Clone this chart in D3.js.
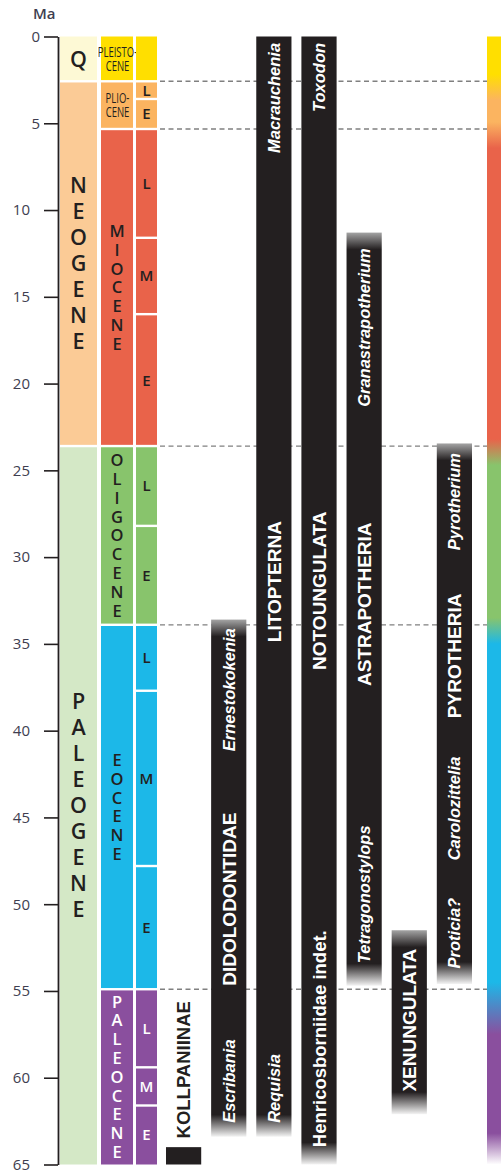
<!DOCTYPE html>
<html>
<head>
<meta charset="utf-8">
<script src="https://cdn.jsdelivr.net/npm/d3@7"></script>
<style>
  body { margin: 0; background: #fff; }
  svg { display: block; }
</style>
</head>
<body>
<svg width="501" height="1171"></svg>
<script>
// ---- time scale (Ma) ----
var periodNames = ["Q", "NEOGENE", "PALEOGENE"];
var periodBounds = [0, 2.58, 23.6, 65];

var epochNames = ["PLEISTO-|CENE", "PLIO-|CENE", "MIOCENE", "OLIGOCENE", "EOCENE", "PALEOCENE"];
var epochBounds = [0, 2.58, 5.33, 23.6, 33.9, 54.9, 65];

var ageNames = ["", "L", "E", "L", "M", "E", "L", "E", "L", "M", "E", "L", "M", "E"];
var ageEpoch = [0, 1, 1, 2, 2, 2, 3, 3, 4, 4, 4, 5, 5, 5];
var ageBounds = [0, 2.58, 3.6, 5.33, 11.6, 16.0, 23.6, 28.2, 33.9, 37.7, 47.8, 54.9, 59.4, 61.6, 65];

var dashedAt = [2.58, 5.33, 23.6, 33.9, 54.9];
var majorTicks = [0, 5, 10, 15, 20, 25, 30, 35, 40, 45, 50, 55, 60, 65];

// ---- clade ranges (Ma) ----
var cladeNames = ["KOLLPANIINAE", "DIDOLODONTIDAE", "LITOPTERNA", "NOTOUNGULATA", "ASTRAPOTHERIA", "XENUNGULATA", "PYROTHERIA"];
var cladeTop  = [64.0, 33.6, 0, 0, 11.3, 51.5, 23.45];
var cladeBase = [65.0, 63.4, 63.4, 65.0, 54.7, 62.1, 54.6];
var fadeTop   = [false, true, false, false, true, true, true];
var fadeBase  = [false, true, true, true, true, true, true];

// labels: [clade, text, age (Ma), anchor, kind]
var taxonLabels = [
  ["KOLLPANIINAE", "KOLLPANIINAE", 63.5, "start", "outside"],
  ["DIDOLODONTIDAE", "Ernestokokenia", 34.1, "end", "genus"],
  ["DIDOLODONTIDAE", "DIDOLODONTIDAE", 54.7, "start", "group"],
  ["DIDOLODONTIDAE", "Escribania", 62.6, "start", "genus"],
  ["LITOPTERNA", "Macrauchenia", 0.37, "end", "genus"],
  ["LITOPTERNA", "LITOPTERNA", 34.9, "start", "group"],
  ["LITOPTERNA", "Requisia", 62.6, "start", "genus"],
  ["NOTOUNGULATA", "Toxodon", 0.37, "end", "genus"],
  ["NOTOUNGULATA", "NOTOUNGULATA", 36.5, "start", "group"],
  ["NOTOUNGULATA", "Henricosborniidae indet.", 64.0, "start", "plain"],
  ["ASTRAPOTHERIA", "Granastrapotherium", 12.2, "end", "genus"],
  ["ASTRAPOTHERIA", "ASTRAPOTHERIA", 28.0, "end", "group"],
  ["ASTRAPOTHERIA", "Tetragonostylops", 53.4, "start", "genus"],
  ["XENUNGULATA", "XENUNGULATA", 60.8, "start", "group"],
  ["PYROTHERIA", "Pyrotherium", 24.0, "end", "genus"],
  ["PYROTHERIA", "PYROTHERIA", 32.1, "end", "group"],
  ["PYROTHERIA", "Carolozittelia", 41.5, "end", "genus"],
  ["PYROTHERIA", "Proticia?", 53.7, "start", "genus"]
];

// ---- styles ----
var periodColors = ["#fdf9d5", "#fbcb96", "#d4e8c6"];
var epochColors = ["#ffdf00", "#fbb460", "#e9634a", "#88c46c", "#1cb8e8", "#8a4f9e"];
var epochInk = ["#231f20", "#231f20", "#231f20", "#231f20", "#231f20", "#ffffff"];
var barColor = "#231f20";

var svg = d3.select("svg");

var y = d3.scaleLinear().domain([0, 65]).range([36.5, 1164.5]);

var col = {
  period: [60, 97],
  epoch: [101, 133],
  age: [136, 157]
};

var x = d3.scaleBand()
  .domain(cladeNames)
  .range([166, 472])
  .paddingInner(0.22);

var defs = svg.append("defs");

// dashed boundary lines (behind bars)
svg.append("g")
  .selectAll("line")
  .data(dashedAt)
  .enter().append("line")
    .attr("x1", 160)
    .attr("x2", 487)
    .attr("y1", function(d) { return y(d); })
    .attr("y2", function(d) { return y(d); })
    .attr("stroke", "#808080")
    .attr("stroke-width", 1.3)
    .attr("stroke-dasharray", "5,3.5");

// helper: cells of one column
function cells(bounds, names, xr, fill) {
  var g = svg.append("g");
  g.selectAll("rect")
    .data(names)
    .enter().append("rect")
      .attr("x", xr[0])
      .attr("width", xr[1] - xr[0])
      .attr("y", function(d, i) { return y(bounds[i]) + (i > 0 ? 1.2 : 0); })
      .attr("height", function(d, i) { return y(bounds[i + 1]) - y(bounds[i]) - (i > 0 ? 1.2 : 0) - (i < names.length - 1 ? 1.2 : 0); })
      .attr("fill", fill);
  return g;
}

// stacked upright letters
function stack(g, word, cx, cy, step, size, color) {
  var letters = word.split("");
  var n = letters.length;
  g.selectAll(null)
    .data(letters)
    .enter().append("text")
      .attr("x", cx)
      .attr("y", function(d, i) { return cy + (i - (n - 1) / 2) * step; })
      .attr("dy", "0.36em")
      .attr("text-anchor", "middle")
      .style("font-family", "'Open Sans', 'Noto Sans', sans-serif")
      .style("font-weight", 600)
      .style("font-size", size + "px")
      .attr("fill", color)
      .text(function(d) { return d; });
}

// periods
var gp = cells(periodBounds, periodNames, col.period, function(d, i) { return periodColors[i]; });
periodNames.forEach(function(name, i) {
  var cy = (y(periodBounds[i]) + y(periodBounds[i + 1])) / 2;
  stack(gp, name, (col.period[0] + col.period[1]) / 2, cy, 26, 21.5, "#231f20");
});

// epochs
var ge = cells(epochBounds, epochNames, col.epoch, function(d, i) { return epochColors[i]; });
epochNames.forEach(function(name, i) {
  var cx = (col.epoch[0] + col.epoch[1]) / 2;
  var cy = (y(epochBounds[i]) + y(epochBounds[i + 1])) / 2;
  if (name.indexOf("|") >= 0) {
    var lines = name.split("|");
    lines.forEach(function(t, j) {
      ge.append("text")
        .attr("transform", "translate(" + (cx + 0.5) + "," + (cy + (j - 0.5) * 13.6) + ") scale(0.68,1)")
        .attr("dy", "0.36em")
        .attr("text-anchor", "middle")
        .style("font-family", "'Open Sans', sans-serif")
        .style("font-size", "14px")
        .attr("fill", epochInk[i])
        .text(t);
    });
  } else {
    stack(ge, name, cx, cy, 18.8, 16.5, epochInk[i]);
  }
});

// ages
var ga = cells(ageBounds, ageNames, col.age, function(d, i) { return epochColors[ageEpoch[i]]; });
ga.selectAll("text")
  .data(ageNames)
  .enter().append("text")
    .attr("x", (col.age[0] + col.age[1]) / 2)
    .attr("y", function(d, i) { return (y(ageBounds[i]) + y(ageBounds[i + 1])) / 2; })
    .attr("dy", "0.36em")
    .attr("text-anchor", "middle")
    .style("font-family", "'Open Sans', sans-serif")
    .style("font-weight", 600)
    .style("font-size", "15px")
    .attr("fill", function(d, i) { return epochInk[ageEpoch[i]]; })
    .text(function(d) { return d; });

// axis
var ink = "#231f20";
var gAxis = svg.append("g").attr("transform", "translate(58,0)");
gAxis.call(d3.axisLeft(y).tickValues(d3.range(0, 66)).tickSize(6).tickSizeOuter(0).tickFormat(""));
gAxis.call(d3.axisLeft(y).tickValues(majorTicks).tickSize(14).tickSizeOuter(0).tickPadding(4));
gAxis.selectAll(".domain").attr("stroke", ink).attr("stroke-width", 1.8);
gAxis.selectAll(".tick line").attr("stroke", ink).attr("stroke-width", 1.6);
gAxis.selectAll(".tick text")
  .attr("x", function(d) { return d < 10 ? -18 : -28; })
  .attr("fill", "#3e3e50")
  .style("font-family", "'Open Sans', 'Noto Sans', sans-serif")
  .style("font-size", "15px");

svg.append("text")
  .attr("x", 33)
  .attr("y", 19)
  .attr("fill", "#3e3e50")
  .style("font-family", "'Open Sans', sans-serif")
  .style("font-weight", 600)
  .style("font-size", "15px")
  .text("Ma");

// clade bars with faded ends
cladeNames.forEach(function(name, i) {
  var y0 = y(cladeTop[i]), y1 = y(cladeBase[i]);
  var h = y1 - y0;
  var grad = defs.append("linearGradient")
    .attr("id", "fade" + i)
    .attr("x1", 0).attr("y1", 0).attr("x2", 0).attr("y2", 1);
  if (fadeTop[i]) {
    grad.append("stop").attr("offset", 0).attr("stop-color", "#a4a4a4");
    grad.append("stop").attr("offset", Math.min(0.5, 17 / h)).attr("stop-color", barColor);
  } else {
    grad.append("stop").attr("offset", 0).attr("stop-color", barColor);
  }
  if (fadeBase[i]) {
    grad.append("stop").attr("offset", Math.max(0.5, 1 - 22 / h)).attr("stop-color", barColor);
    grad.append("stop").attr("offset", 1).attr("stop-color", "#f4f4f4");
  } else {
    grad.append("stop").attr("offset", 1).attr("stop-color", barColor);
  }
});

svg.append("g")
  .selectAll("rect")
  .data(cladeNames)
  .enter().append("rect")
    .attr("x", function(d) { return x(d); })
    .attr("width", x.bandwidth())
    .attr("y", function(d, i) { return y(cladeTop[i]); })
    .attr("height", function(d, i) { return y(cladeBase[i]) - y(cladeTop[i]); })
    .attr("fill", function(d, i) { return "url(#fade" + i + ")"; });

var fontSize = { group: 19, genus: 16.5, plain: 18.5, outside: 18.5 };

svg.append("g")
  .selectAll("text")
  .data(taxonLabels)
  .enter().append("text")
    .attr("transform", function(d) {
      return "translate(" + (x(d[0]) + x.bandwidth() / 2) + "," + y(d[2]) + ") rotate(-90)";
    })
    .attr("dy", "0.36em")
    .attr("text-anchor", function(d) { return d[3]; })
    .style("font-family", "'Liberation Sans', Arial, sans-serif")
    .style("font-weight", "bold")
    .style("font-style", function(d) { return d[4] === "genus" ? "italic" : "normal"; })
    .style("font-size", function(d) { return fontSize[d[4]] + "px"; })
    .attr("fill", function(d) { return d[4] === "outside" ? ink : "#ffffff"; })
    .text(function(d) { return d[1]; });

// colour strip on the right
var strip = defs.append("linearGradient")
  .attr("id", "strip")
  .attr("gradientUnits", "userSpaceOnUse")
  .attr("x1", 0).attr("x2", 0)
  .attr("y1", y(0)).attr("y2", y(65));
epochColors.forEach(function(c, i) {
  var a = epochBounds[i], b = epochBounds[i + 1];
  strip.append("stop").attr("offset", (i === 0 ? a : a + (i === 5 ? 2.6 : 1.1)) / 65).attr("stop-color", c);
  strip.append("stop").attr("offset", (i === epochColors.length - 1 ? b - 1.8 : b - 0.4) / 65).attr("stop-color", c);
});
strip.append("stop").attr("offset", 1).attr("stop-color", "#ffffff");

svg.append("rect")
  .attr("x", 487)
  .attr("width", 14)
  .attr("y", y(0))
  .attr("height", y(65) - y(0))
  .attr("fill", "url(#strip)");
</script>
</body>
</html>
